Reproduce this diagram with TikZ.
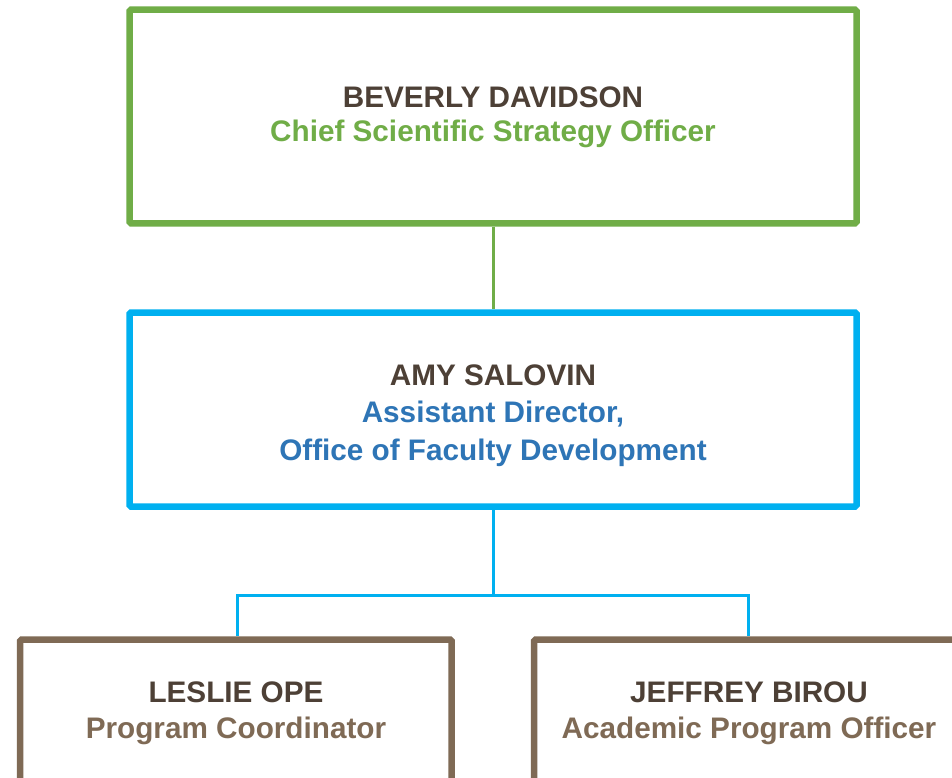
\documentclass[tikz,border=0pt]{standalone}
\usepackage{fontspec}
\setmainfont{Liberation Sans}
\definecolor{grn}{HTML}{70AD47}
\definecolor{blu}{HTML}{00B0F0}
\definecolor{blutxt}{HTML}{2E75B6}
\definecolor{brn}{HTML}{7F6A55}
\definecolor{dark}{HTML}{4D4036}
\tikzset{
  box/.style={draw, line width=6.5pt, rounded corners=1.5pt, fill=white, minimum width=#1, inner sep=0pt},
  box/.default=727pt,
  txt/.style={anchor=base, inner sep=0pt, font=\fontsize{29.7}{31}\selectfont\bfseries},
  conn/.style={line width=3pt},
}
\begin{document}
\begin{tikzpicture}[x=1pt,y=-1pt]
\useasboundingbox (0,0) rectangle (952,778);
\clip (0,0) rectangle (952,778);
\fill[white] (0,0) rectangle (952,778);
% boxes
\node[box, draw=grn, minimum height=213.5pt] (top) at (493,116.5) {};
\node[box, draw=blu, minimum height=194pt] (mid) at (493,409.5) {};
\node[box=431.7pt, draw=brn, minimum height=150pt] (left) at (235.85,714.7) {};
\node[box=428pt, draw=brn, minimum height=150pt] (right) at (748,714.7) {};
% connectors
\coordinate (jl) at (237.3,595);
\coordinate (jr) at (748.3,595);
\coordinate (jm) at (493,595);
\draw[conn, grn] (top.south) -- (mid.north);
\draw[conn, blu] (mid.south) -- (jm);
\draw[conn, blu, line join=miter] (left.north -| jl) -- (jl) -- (jr) -- (right.north -| jr);
% texts
\node[txt, text=dark] (n1) at (493,107.5) {BEVERLY DAVIDSON};
\node[txt, text=grn] (t1) at (493,142) {Chief Scientific Strategy Officer};
\node[txt, text=dark] (n2) at (493,385.5) {AMY SALOVIN};
\node[txt, text=blutxt] (t2) at (493,422.7) {Assistant Director,};
\node[txt, text=blutxt] (t2b) at (493,460) {Office of Faculty Development};
\node[txt, text=dark] (n3) at (236,702.7) {LESLIE OPE};
\node[txt, text=brn] (t3) at (236,738.3) {Program Coordinator};
\node[txt, text=dark] (n4) at (749,702.7) {JEFFREY BIROU};
\node[txt, text=brn] (t4) at (749,738.3) {Academic Program Officer};
\end{tikzpicture}
\end{document}
